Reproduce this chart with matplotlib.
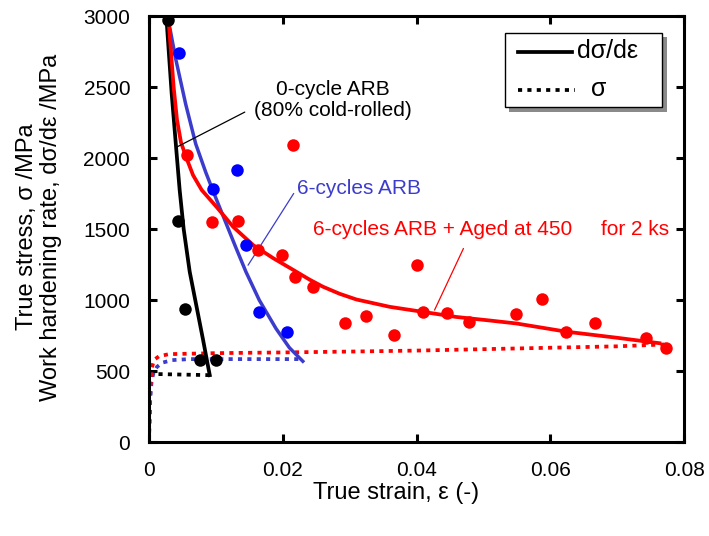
import matplotlib
matplotlib.use("Agg")
import matplotlib.pyplot as plt
from matplotlib.patches import Rectangle

plt.rcParams['font.family'] = ['Liberation Sans', 'DejaVu Sans']

# ---- data ----
# 0-cycle ARB (80% cold-rolled)
k0_x = [0.0028, 0.0043, 0.0054, 0.0076, 0.0100]
k0_y = [2970, 1556, 937, 577, 577]
k0_fit_x = [0.0026, 0.0034, 0.0041, 0.0046, 0.0052, 0.0061, 0.0071, 0.0081, 0.0089, 0.0091]
k0_fit_y = [3000, 2458, 2056, 1775, 1500, 1200, 960, 720, 520, 472]
k0_sig_x = [0.0, 0.0001, 0.0002, 0.0004, 0.0010, 0.0091]
k0_sig_y = [0, 300, 440, 478, 480, 472]

# 6-cycles ARB
b_x = [0.0045, 0.0096, 0.0131, 0.0145, 0.0164, 0.0207]
b_y = [2739, 1782, 1915, 1387, 915, 775]
b_fit_x = [0.0028, 0.0040, 0.0055, 0.0070, 0.0085, 0.0100, 0.0115, 0.0130, 0.0145, 0.0165,
           0.0190, 0.0210, 0.0230]
b_fit_y = [3000, 2700, 2380, 2100, 1900, 1720, 1545, 1370, 1200, 1000,
           800, 665, 570]
b_sig_x = [0.0, 0.0002, 0.0004, 0.0007, 0.0012, 0.0020, 0.0035, 0.0060, 0.0230]
b_sig_y = [0, 300, 430, 490, 530, 560, 578, 585, 585]

# 6-cycles ARB + aged
r_x = [0.0057, 0.0094, 0.0133, 0.0163, 0.0199, 0.0215, 0.0218, 0.0245, 0.0293, 0.0325,
       0.0367, 0.0400, 0.0409, 0.0446, 0.0478, 0.0549, 0.0587, 0.0624, 0.0666, 0.0743, 0.0773]
r_y = [2021, 1549, 1556, 1352, 1317, 2092, 1162, 1091, 838, 887,
       753, 1246, 915, 908, 845, 901, 1007, 775, 838, 732, 662]
r_fit_x = [0.0029, 0.0033, 0.0037, 0.0042, 0.0048, 0.0057, 0.0066, 0.0079, 0.0101, 0.0126,
           0.0156, 0.0186, 0.0215, 0.0240, 0.0260, 0.0285, 0.0310, 0.0360, 0.0409, 0.0459,
           0.0509, 0.0549, 0.0624, 0.0700, 0.0763]
r_fit_y = [3000, 2750, 2500, 2270, 2110, 1990, 1880, 1775, 1657, 1516,
           1387, 1295, 1215, 1145, 1095, 1045, 1005, 953, 918, 882,
           857, 836, 778, 735, 697]
r_sig_x = [0.0, 0.0002, 0.0004, 0.0008, 0.0015, 0.0030, 0.0100, 0.0200, 0.0300, 0.0400,
           0.0500, 0.0600, 0.0700, 0.0770]
r_sig_y = [0, 350, 520, 580, 605, 620, 627, 632, 638, 645, 655, 665, 675, 688]

xticks = [0, 0.02, 0.04, 0.06, 0.08]
xticklabels = ['0', '0.02', '0.04', '0.06', '0.08']
yticks = [0, 500, 1000, 1500, 2000, 2500, 3000]

# ---- figure ----
fig = plt.figure(figsize=(7.09, 5.36), dpi=100)
ax = fig.add_axes([0.210, 0.175, 0.755, 0.795])

RED = '#ff0000'
BLUE_L = '#3c3ccc'
BLUE_D = '#0000ff'
dot = (0, (1.1, 1.4))
DLW = 2.7

ax.plot(k0_sig_x, k0_sig_y, color='black', lw=DLW, linestyle=dot, zorder=2)
ax.plot(b_sig_x, b_sig_y, color=BLUE_L, lw=DLW, linestyle=dot, zorder=2)
ax.plot(r_sig_x, r_sig_y, color=RED, lw=DLW, linestyle=dot, zorder=2)

ax.plot(k0_fit_x, k0_fit_y, color='black', lw=2.7, zorder=3, solid_joinstyle='round')
ax.plot(b_fit_x, b_fit_y, color=BLUE_L, lw=2.5, zorder=3, solid_joinstyle='round')
ax.plot(r_fit_x, r_fit_y, color=RED, lw=2.7, zorder=3, solid_joinstyle='round')

ax.plot(k0_x, k0_y, 'o', color='black', ms=9, mec='none', zorder=4)
ax.plot(b_x, b_y, 'o', color=BLUE_D, ms=9, mec='none', zorder=4)
ax.plot(r_x, r_y, 'o', color=RED, ms=9, mec='none', zorder=4)

ax.set_xlim(0, 0.08)
ax.set_ylim(0, 3000)
ax.set_xticks(xticks)
ax.set_xticklabels(xticklabels)
ax.set_yticks(yticks)
ax.tick_params(direction='in', length=5.5, width=2.2, top=True, right=True,
               labelsize=15, pad=13.5, colors='black')
for s in ax.spines.values():
    s.set_linewidth(2.2)

ax.set_xlabel('True strain, ε (-)', fontsize=17)
ax.xaxis.set_label_coords(0.462, -0.094)
ax.set_ylabel('True stress, σ /MPa\nWork hardening rate, dσ/dε /MPa', fontsize=17,
              linespacing=1.12)
ax.yaxis.set_label_coords(-0.162, 0.505)

# annotations: texts
ax.text(0.0275, 2408, '0-cycle ARB\n(80% cold-rolled)', ha='center', va='center',
        fontsize=15, linespacing=1.12)
ax.text(0.0221, 1788, '6-cycles ARB', ha='left', va='center', fontsize=15, color=BLUE_L)
ax.text(0.0246, 1500, '6-cycles ARB + Aged at 450     for 2 ks', ha='left', va='center',
        fontsize=15, color=RED)

# annotations: leader lines
lead = dict(arrowstyle='-', lw=0.9, shrinkA=0, shrinkB=0)
ax.annotate('', xy=(0.00413, 2077), xytext=(0.01433, 2324),
            arrowprops=dict(color='black', **lead))
ax.annotate('', xy=(0.01482, 1246), xytext=(0.02164, 1751),
            arrowprops=dict(color=BLUE_L, **lead))
ax.annotate('', xy=(0.04269, 930), xytext=(0.04701, 1364),
            arrowprops=dict(color=RED, **lead))

# legend (drawn in axes coordinates)
lx0, ly0, lw_, lh_ = 0.665, 0.786, 0.294, 0.174
ax.add_patch(Rectangle((lx0 + 0.008, ly0 - 0.010), lw_, lh_, transform=ax.transAxes,
                       fc='#8a8a8a', ec='none', zorder=9, clip_on=False))
ax.add_patch(Rectangle((lx0, ly0), lw_, lh_, transform=ax.transAxes,
                       fc='white', ec='black', lw=1.0, zorder=10, clip_on=False))
ax.plot([0.690, 0.790], [0.915, 0.915], transform=ax.transAxes, color='black', lw=2.7,
        zorder=11, clip_on=False)
ax.plot([0.690, 0.796], [0.826, 0.826], transform=ax.transAxes, color='black', lw=DLW,
        linestyle=dot, zorder=11, clip_on=False)
ax.text(0.800, 0.917, 'dσ/dε', transform=ax.transAxes, fontsize=18, va='center',
        ha='left', zorder=12)
ax.text(0.826, 0.830, 'σ', transform=ax.transAxes, fontsize=18, va='center',
        ha='left', zorder=12)

fig.savefig('out.png', dpi=100)
